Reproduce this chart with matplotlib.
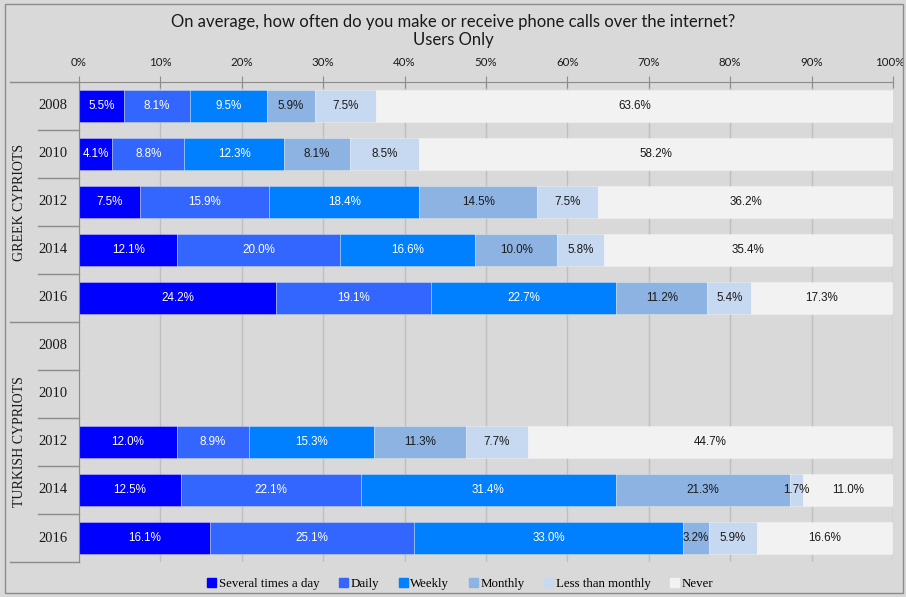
import matplotlib.pyplot as plt
from matplotlib.lines import Line2D
from matplotlib.transforms import ScaledTranslation

# survey shares (%) per group and year
years = ["2008", "2010", "2012", "2014", "2016"]
groups = ["GREEK CYPRIOTS", "TURKISH CYPRIOTS"]
answers = ["Several times a day", "Daily", "Weekly", "Monthly",
           "Less than monthly", "Never"]

greek = [
    [5.5, 8.1, 9.5, 5.9, 7.5, 63.6],
    [4.1, 8.8, 12.3, 8.1, 8.5, 58.2],
    [7.5, 15.9, 18.4, 14.5, 7.5, 36.2],
    [12.1, 20.0, 16.6, 10.0, 5.8, 35.4],
    [24.2, 19.1, 22.7, 11.2, 5.4, 17.3],
]
turkish = [
    None,
    None,
    [12.0, 8.9, 15.3, 11.3, 7.7, 44.7],
    [12.5, 22.1, 31.4, 21.3, 1.7, 11.0],
    [16.1, 25.1, 33.0, 3.2, 5.9, 16.6],
]

colors = ["#0000ff", "#3366ff", "#0080ff", "#8db3e2", "#c6d9f1", "#f2f2f2"]
text_colors = ["white", "white", "white", "#1a1a1a", "#1a1a1a", "#1a1a1a"]
BG = "#d9d9d9"

rows = greek + turkish
row_years = years + years

fig = plt.figure(figsize=(9.06, 5.97), dpi=100, facecolor=BG)
ax = fig.add_axes([79 / 906, 1 - 562 / 597, 814 / 906, 480 / 597])
ax.set_facecolor(BG)

for i, vals in enumerate(rows):
    if vals is None:
        continue
    left = 0
    for j, v in enumerate(vals):
        ax.barh(i, v, left=left, height=0.66, color=colors[j],
                edgecolor=(1, 1, 1, 0.35), linewidth=0.6, zorder=2)
        ax.text(left + v / 2, i, f"{v:.1f}%", ha="center", va="center",
                fontsize=8.4, color=text_colors[j], family="Liberation Sans",
                zorder=3)
        left += v

ax.set_xlim(0, 100)
ax.set_ylim(len(rows) - 0.5, -0.5)
ax.set_xticks(range(0, 101, 10))
ax.set_xticklabels([f"{t}%" for t in range(0, 101, 10)], family="Lato",
                   fontsize=8.3, color="#1a1a1a")
ax.xaxis.tick_top()
ax.tick_params(axis="x", direction="inout", length=8, color="#8c8c8c",
               pad=6)
# keep the 100% label inside the figure
last = ax.get_xticklabels()[-1]
last.set_transform(last.get_transform() + ScaledTranslation(-3 / 100, 0, fig.dpi_scale_trans))
ax.set_yticks([])
ax.grid(axis="x", color="#bfbfbf", linewidth=1, zorder=0)
for s in ["right", "bottom"]:
    ax.spines[s].set_visible(False)
ax.spines["top"].set_color("#8c8c8c")
ax.spines["left"].set_color("#8c8c8c")

# year labels and separators on the left
trans = ax.get_yaxis_transform()
for i, y in enumerate(row_years):
    ax.text(-0.0326, i, y, transform=trans, ha="center", va="center",
            family="Liberation Serif", fontsize=10.5, color="#1a1a1a")
for k in range(len(rows) + 1):
    yb = k - 0.5
    x0 = -0.085 if k % 5 == 0 else -0.05
    ax.add_line(Line2D([x0, 0], [yb, yb], transform=trans, color="#8c8c8c",
                       linewidth=1, clip_on=False))
for g, name in enumerate(groups):
    ax.text(-0.0737, g * 5 + 2, name, transform=trans, rotation=90,
            ha="center", va="center", family="Liberation Serif",
            fontsize=10, color="#1a1a1a")

fig.text(0.5, 1 - 22 / 597, "On average, how often do you make or receive "
         "phone calls over the internet?", ha="center", va="center",
         family="Lato", fontsize=12, color="#1a1a1a")
fig.text(0.5, 1 - 40 / 597, "Users Only", ha="center", va="center",
         family="Lato", fontsize=12, color="#1a1a1a")

handles = [plt.Rectangle((0, 0), 1, 1, color=c) for c in colors]
fig.legend(handles, answers, loc="center", bbox_to_anchor=(0.508, 1 - 584 / 597),
           ncol=6, frameon=False, handlelength=0.7, handleheight=0.7,
           handletextpad=0.2, columnspacing=1.5,
           prop={"family": "Liberation Serif", "size": 9.3})

# outer frame
fig.add_artist(plt.Rectangle((5 / 906, 4 / 597), 898 / 906, 589 / 597,
                             transform=fig.transFigure, fill=False,
                             edgecolor="#8c8c8c", linewidth=1))

fig.savefig("out.png", dpi=100, facecolor=BG)
